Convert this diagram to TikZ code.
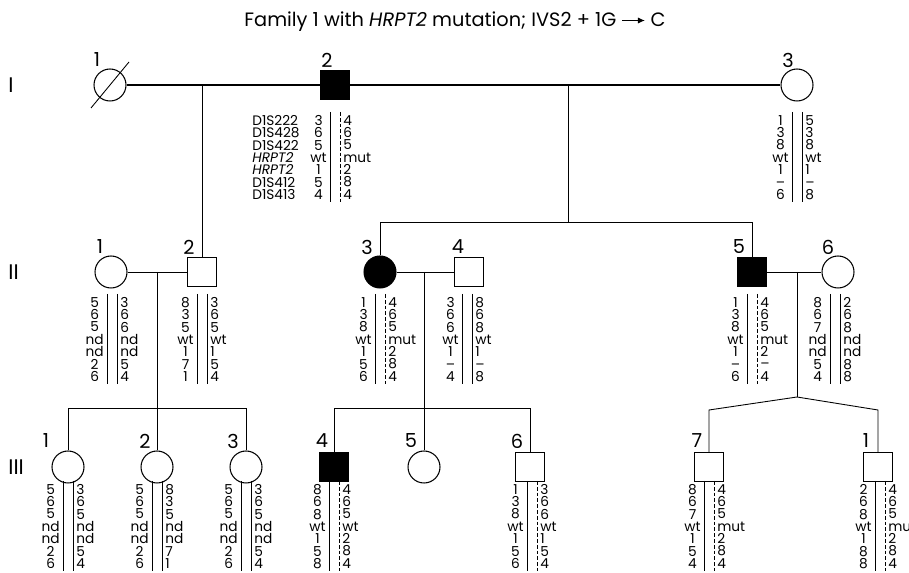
\documentclass[tikz,border=0pt]{standalone}
\usepackage{fontspec}
\setmainfont{Poppins}
\usetikzlibrary{arrows.meta, positioning, calc}
\tikzset{
  male/.style={draw, rectangle, minimum size=0.58cm, inner sep=0pt, line width=0.6pt},
  female/.style={draw, circle, minimum size=0.64cm, inner sep=0pt, line width=0.6pt},
  affected/.style={fill=black},
  link/.style={line width=0.5pt},
  marline/.style={line width=0.9pt},
  idlabel/.style={font=\fontsize{11}{12}\selectfont, inner sep=0pt},
  genlabel/.style={font=\fontsize{12}{13}\selectfont, inner sep=0pt, anchor=west},
  hapcol/.style={font=\fontsize{7.8}{7.03}\selectfont, inner sep=0pt, align=center},
  hapbar/.style={line width=0.55pt},
  hapdash/.style={dash pattern=on 2.2pt off 1.1pt}
}
% missing allele
\newcommand{\nodat}{--}
% haplotype block: name, x, first row y, left alleles, right alleles, style of 2nd bar
\newcommand{\haplo}[6]{%
  \node[hapcol, anchor=north east] (#1L) at (#2-8,#3-5) {#4};
  \node[hapcol, anchor=north west, align=left] (#1R) at (#2+8,#3-5) {#5};
  \draw[hapbar] (#2-5,#3-8) -- (#2-5,#3+82);
  \draw[hapbar,#6] (#2+5,#3-8) -- (#2+5,#3+82);
}
\newcommand{\mutarrow}{\tikz[baseline=-0.6ex,x=1pt,y=1pt]\draw[-{Latex[length=4pt,width=3.5pt]},line width=0.6pt] (0,0) -- (13,0);}

\begin{document}
\begin{tikzpicture}[x=0.02cm, y=-0.02cm]
  \useasboundingbox (0,0) rectangle (909,573);

  \node[font=\fontsize{11}{12}\selectfont, inner sep=0pt] (title) at (455,22)
    {Family 1 with \textit{HRPT2} mutation; IVS2 + 1G \mutarrow{} C};

  % generations
  \node[genlabel] (gI) at (8,85) {I};
  \node[genlabel] (gII) at (8,272) {II};
  \node[genlabel] (gIII) at (8,467) {III};

  % generation I
  \node[female] (I1) at (110,85) {};
  \node[male, affected] (I2) at (335,85) {};
  \node[female] (I3) at (797,85) {};
  \draw[link] ([shift={(-19,23)}]I1.center) -- ([shift={(19,-23)}]I1.center);
  \node[idlabel] (lI1) at (97,60) {1};
  \node[idlabel] (lI2) at (327,60) {2};
  \node[idlabel] (lI3) at (788,60) {3};
  \draw[marline] (I1.east) -- (I2.west);
  \draw[marline] (I2.east) -- (I3.west);

  % generation II
  \node[female] (II1) at (111,272) {};
  \node[male] (II2) at (202,272) {};
  \node[female, affected] (II3) at (380,272) {};
  \node[male] (II4) at (469,272) {};
  \node[male, affected] (II5) at (752,272) {};
  \node[female] (II6) at (838,272) {};
  \node[idlabel] (lII1) at (100,247) {1};
  \node[idlabel] (lII2) at (189,247) {2};
  \node[idlabel] (lII3) at (367,247) {3};
  \node[idlabel] (lII4) at (458,247) {4};
  \node[idlabel] (lII5) at (739,247) {5};
  \node[idlabel] (lII6) at (828,247) {6};
  \draw[link] (II1) -- (II2);
  \draw[link] (II3) -- (II4);
  \draw[link] (II5) -- (II6);

  \coordinate (cI12) at (202,85);
  \coordinate (cI23) at (568,85);
  \coordinate (sI23) at (568,222);
  \draw[link] (cI12) -- (II2.north);
  \draw[link] (cI23) -- (sI23);
  \draw[link] (II3.north) -- (II3.north |- sI23) -- (II5.north |- sI23) -- (II5.north);

  % generation III
  \node[female] (III1) at (68,467) {};
  \node[female] (III2) at (157,467) {};
  \node[female] (III3) at (246,467) {};
  \node[male, affected] (III4) at (334,467) {};
  \node[female] (III5) at (424,467) {};
  \node[male] (III6) at (530,467) {};
  \node[male] (III7) at (709,467) {};
  \node[male] (III8) at (878,467) {};
  \node[idlabel] (lIII1) at (46,441) {1};
  \node[idlabel] (lIII2) at (145,441) {2};
  \node[idlabel] (lIII3) at (233,441) {3};
  \node[idlabel] (lIII4) at (322,441) {4};
  \node[idlabel] (lIII5) at (411,441) {5};
  \node[idlabel] (lIII6) at (517,441) {6};
  \node[idlabel] (lIII7) at (697,441) {7};
  \node[idlabel] (lIII8) at (866,441) {1};

  \coordinate (cII12) at (157,272);
  \coordinate (sII12) at (157,408);
  \draw[link] (cII12) -- (sII12);
  \draw[link] (III1.north) -- (III1.north |- sII12) -- (III3.north |- sII12) -- (III3.north);
  \draw[link] (III2.north) -- (III2.north |- sII12);

  \coordinate (cII34) at (424,272);
  \coordinate (sII34) at (424,408);
  \draw[link] (cII34) -- (III5.north);
  \draw[link] (III4.north) -- (III4.north |- sII34) -- (III6.north |- sII34) -- (III6.north);

  \coordinate (cII56) at (797,272);
  \coordinate (sII56) at (797,397);
  \coordinate (fIII7) at (709,410);
  \coordinate (fIII8) at (878,410);
  \draw[link] (cII56) -- (sII56);
  \draw[link] (III7.north) -- (fIII7) -- (sII56) -- (fIII8) -- (III8.north);

  % haplotypes
  \node[hapcol, anchor=north west, align=left] (mk) at (252,115)
    {D1S222\\D1S428\\D1S422\\\textit{HRPT2}\\\textit{HRPT2}\\D1S412\\D1S413};
  \haplo{hI2}{335}{120}{3\\6\\5\\wt\\1\\5\\4}{4\\6\\5\\mut\\2\\8\\4}{hapdash}
  \haplo{hI3}{797}{120}{1\\3\\8\\wt\\1\\\nodat\\6}{5\\3\\8\\wt\\1\\\nodat\\8}{}
  \haplo{hII1}{112}{302}{5\\6\\5\\nd\\nd\\2\\6}{3\\6\\6\\nd\\nd\\5\\4}{}
  \haplo{hII2}{202}{302}{8\\3\\5\\wt\\1\\7\\1}{3\\6\\5\\wt\\1\\5\\4}{}
  \haplo{hII3}{380}{302}{1\\3\\8\\wt\\1\\5\\6}{4\\6\\5\\mut\\2\\8\\4}{hapdash}
  \haplo{hII4}{467}{302}{3\\6\\6\\wt\\1\\\nodat\\4}{8\\6\\8\\wt\\1\\\nodat\\8}{}
  \haplo{hII5}{752}{302}{1\\3\\8\\wt\\1\\\nodat\\6}{4\\6\\5\\mut\\2\\\nodat\\4}{hapdash}
  \haplo{hII6}{835}{302}{8\\6\\7\\nd\\nd\\5\\4}{2\\6\\8\\nd\\nd\\8\\8}{}
  \haplo{hIII1}{68}{489}{5\\6\\5\\nd\\nd\\2\\6}{3\\6\\5\\nd\\nd\\5\\4}{}
  \haplo{hIII2}{157}{489}{5\\6\\5\\nd\\nd\\2\\6}{8\\3\\5\\nd\\nd\\7\\1}{}
  \haplo{hIII3}{246}{489}{5\\6\\5\\nd\\nd\\2\\6}{3\\6\\5\\nd\\nd\\5\\4}{}
  \haplo{hIII4}{334}{489}{8\\6\\8\\wt\\1\\5\\8}{4\\6\\5\\wt\\2\\8\\4}{hapdash}
  \haplo{hIII6}{532}{489}{1\\3\\8\\wt\\1\\5\\6}{3\\6\\6\\wt\\1\\5\\4}{hapdash}
  \haplo{hIII7}{709}{489}{8\\6\\7\\wt\\1\\5\\4}{4\\6\\5\\mut\\2\\8\\4}{hapdash}
  \haplo{hIII8}{880}{489}{2\\6\\8\\wt\\1\\8\\8}{4\\6\\5\\mut\\2\\8\\4}{hapdash}
\end{tikzpicture}
\end{document}
